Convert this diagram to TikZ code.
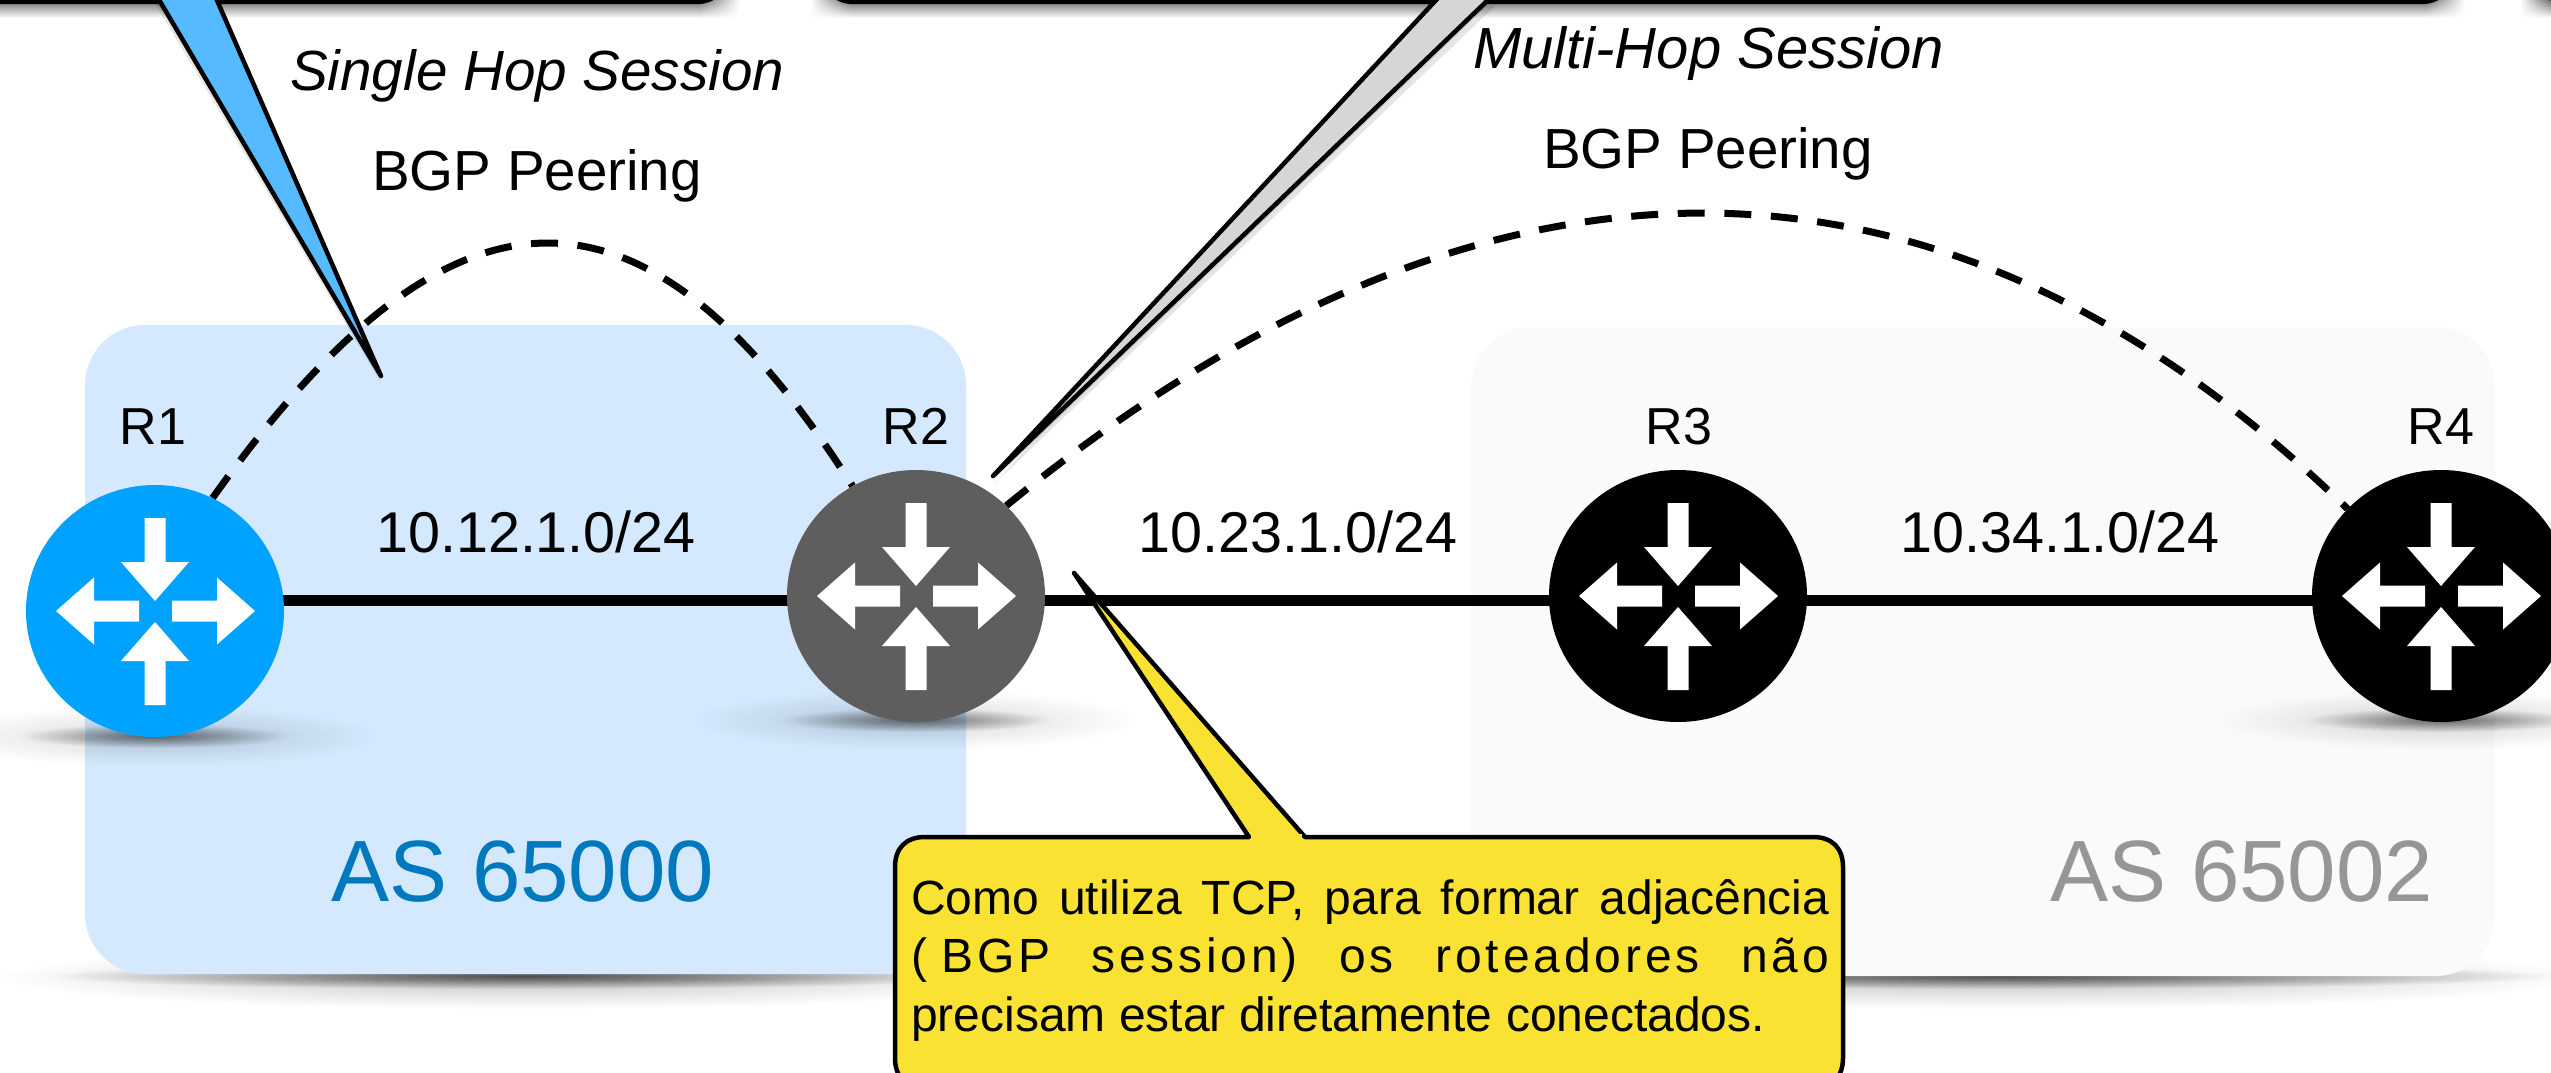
\documentclass[tikz,border=0pt]{standalone}
\usepackage{fontspec}
\setmainfont{Liberation Sans}
\newfontfamily\spacedfont[LetterSpace=8]{Liberation Sans}
\usetikzlibrary{fadings,shadings,shapes.geometric}
\pgfdeclarelayer{back}
\pgfsetlayers{back,main}
\definecolor{asblue}{HTML}{D4E9FD}
\definecolor{asgrey}{HTML}{FAFAFA}
\definecolor{asbluetext}{HTML}{0078BD}
\definecolor{asgreytext}{HTML}{969696}
\definecolor{routerblue}{HTML}{00A2FF}
\definecolor{routergrey}{HTML}{5E5E5E}
\definecolor{tailblue}{HTML}{55BAFF}
\definecolor{tailgrey}{HTML}{D6D6D6}
\definecolor{noteyellow}{HTML}{FAE232}
\tikzfading[name=softglow, inner color=transparent!0, outer color=transparent!100]
\newcommand{\softblob}[5]{\fill[black, opacity=#5, path fading=softglow] (#1,#2) ellipse [x radius=#3, y radius=#4];}
\newcommand{\routerglow}[2]{\softblob{#1}{#2}{225}{30}{.16}\softblob{#1}{#2}{135}{12}{.5}}
\tikzset{
  routernode/.style={ellipse, inner sep=0pt, minimum width=258pt, minimum height=252pt},
  routerlabel/.style={anchor=base, inner sep=0pt, font=\fontsize{52}{60}\selectfont},
  subnetlabel/.style={anchor=base, inner sep=0pt, font=\fontsize{57.5}{64}\selectfont},
  peerlabel/.style={anchor=base, inner sep=0pt, font=\fontsize{56.5}{64}\selectfont},
  sessionlabel/.style={anchor=base west, inner sep=0pt, font=\fontsize{56.6}{64}\selectfont\itshape},
  aslabel/.style={anchor=base, inner sep=0pt, font=\fontsize{87}{96}\selectfont},
  link/.style={line width=11pt},
  peering/.style={line width=7pt, dash pattern=on 27pt off 19.6pt},
  calloutedge/.style={draw=black, line width=4.5pt, line join=round},
  barshadow/.style={top color=black!58, bottom color=white},
  routerarrows/.pic={
    \fill[white] (-10.5,-93) -- (10.5,-93) -- (10.5,-49) -- (34,-49) -- (0,-10) -- (-34,-49) -- (-10.5,-49) -- cycle;
    \fill[white] (-10.5,94) -- (10.5,94) -- (10.5,50) -- (34,50) -- (0,11) -- (-34,50) -- (-10.5,50) -- cycle;
    \fill[white] (-16,-10.5) -- (-16,10.5) -- (-61,10.5) -- (-61,33.5) -- (-99,0) -- (-61,-33.5) -- (-61,-10.5) -- cycle;
    \fill[white] (17,-10.5) -- (17,10.5) -- (62,10.5) -- (62,33.5) -- (100,0) -- (62,-33.5) -- (62,-10.5) -- cycle;
  }
}
\begin{document}
\begin{tikzpicture}[x=1pt,y=-1pt]
\useasboundingbox (0,0) rectangle (2551,1073);
\coordinate (linelevel) at (0,600);

% routers
\node[routernode, fill=routerblue] (R1) at (155,611) {};
\node[routernode, fill=routergrey] (R2) at (916,596) {};
\node[routernode, fill=black] (R3) at (1678,596) {};
\node[routernode, fill=black] (R4) at (2441,596) {};
\pic at (R1.center) {routerarrows};
\pic at (R2.center) {routerarrows};
\pic at (R3.center) {routerarrows};
\pic at (R4.center) {routerarrows};

\begin{pgfonlayer}{back}
  % shadows of the AS boxes
  \softblob{525}{977}{530}{32}{.24}
  \softblob{525}{976}{480}{13}{.6}
  \softblob{2000}{977}{590}{32}{.24}
  \softblob{2000}{976}{560}{13}{.6}
  % AS boxes
  \path[fill=asblue, rounded corners=60pt] (85,325) rectangle (966,974);
  \path[fill=asgrey, rounded corners=60pt] (1471,327) rectangle (2495,976);
  % router shadows
  \routerglow{155}{736}
  \routerglow{916}{720}
  \routerglow{2441}{720}
  % links
  \draw[link] (R1 |- linelevel) -- (R2 |- linelevel);
  \draw[link] (R2 |- linelevel) -- (R3 |- linelevel);
  \draw[link] (R3 |- linelevel) -- (R4 |- linelevel);
  % peerings
  \draw[peering] (R1.63) .. controls (453,160) and (645,160) .. (R2.120);
  \draw[peering] (R2.45) .. controls (1483,115) and (1942,115) .. (R4.137);
\end{pgfonlayer}

% AS labels
\node[aslabel, text=asbluetext] (as1) at (523,901) {AS 65000};
\node[aslabel, text=asgreytext] (as2) at (2242,901) {AS 65002};

% labels
\node[routerlabel] (l1) at (153,444) {R1};
\node[routerlabel] (l2) at (916,444) {R2};
\node[routerlabel] (l3) at (1679,444) {R3};
\node[routerlabel] (l4) at (2441,444) {R4};
\node[subnetlabel] (n1) at (536,552) {10.12.1.0/24};
\node[subnetlabel] (n2) at (1298,552) {10.23.1.0/24};
\node[subnetlabel] (n3) at (2060,552) {10.34.1.0/24};
\node[peerlabel] (p1) at (537,190) {BGP Peering};
\node[peerlabel] (p2) at (1708,168) {BGP Peering};
\node[sessionlabel] (s1) at (290,91) {Single Hop Session};
\node[sessionlabel, font=\fontsize{58}{64}\selectfont\itshape] (s2) at (1473,68) {Multi-Hop Session};

% top callouts (cut by the page)
\shade[barshadow] (0,0) rectangle (700,18);
\shade[barshadow] (850,0) rectangle (2425,18);
\shade[barshadow, path fading=east] (700,0) rectangle (740,18);
\shade[barshadow, path fading=west] (810,0) rectangle (850,18);
\shade[barshadow, path fading=east] (2425,0) rectangle (2465,18);
\shade[barshadow, path fading=west] (2520,0) rectangle (2551,18);
\path[fill=white, calloutedge] (-30,-40) -- (-30,2) -- (695,2) .. controls (708,2) and (716,-2) .. (722,-12) -- (722,-40) -- cycle;
\path[fill=white, calloutedge] (828,-40) -- (828,-12) .. controls (834,-2) and (842,2) .. (855,2) -- (2420,2) .. controls (2433,2) and (2441,-2) .. (2447,-12) -- (2447,-40) -- cycle;
\path[fill=white, calloutedge] (2540,-12) .. controls (2546,-2) and (2554,2) .. (2580,2) -- (2580,-40) -- (2540,-40) -- cycle;

% tail shadows
\fill[black, opacity=.1] (159,0) -- (381,380) -- (215,0) -- cycle;
\fill[black, opacity=.1] (153,0) -- (381,383) -- (215,0) -- cycle;
\fill[black, opacity=.1] (1436,4) -- (993,481) -- (1489,4) -- cycle;
\fill[black, opacity=.1] (1436,6) -- (993,485) -- (1495,6) -- cycle;

% blue tail
\fill[tailblue] (158,-2) -- (381,376) -- (216,-2) -- cycle;
\draw[calloutedge] (158,-2) -- (381,376) -- (216,-2);
% grey tail
\fill[tailgrey] (1438,-2) -- (993,476) -- (1490,-2) -- cycle;
\draw[calloutedge] (1438,-2) -- (993,476) -- (1490,-2);

% yellow callout
\path[fill=noteyellow] (895,867) .. controls (895,848) and (906,837) .. (925,837) -- (1249,837) -- (1074,573) -- (1305,837) -- (1813,837) .. controls (1832,837) and (1843,848) .. (1843,867) -- (1843,1058) .. controls (1843,1077) and (1832,1088) .. (1813,1088) -- (925,1088) .. controls (906,1088) and (895,1077) .. (895,1058) -- cycle;
\draw[calloutedge] (1249,837) -- (925,837) .. controls (906,837) and (895,848) .. (895,867) -- (895,1058) .. controls (895,1077) and (906,1088) .. (925,1088) -- (1813,1088) .. controls (1832,1088) and (1843,1077) .. (1843,1058) -- (1843,867) .. controls (1843,848) and (1832,837) .. (1813,837) -- (1305,837) -- (1074,573) -- cycle;
\fill[noteyellow] (1252,834) -- (1302,834) -- (1302,840) -- (1252,840) -- cycle;
\node[anchor=north west, inner sep=0pt, align=left, font=\fontsize{48}{58.5}\selectfont] (note) at (911,879) {%
  \makebox[918pt][s]{Como utiliza TCP, para formar adjacência}\\
  \makebox[918pt][s]{\spacedfont(\kern14pt BGP session) os roteadores não}\\
  precisam estar diretamente conectados.};
\end{tikzpicture}
\end{document}
